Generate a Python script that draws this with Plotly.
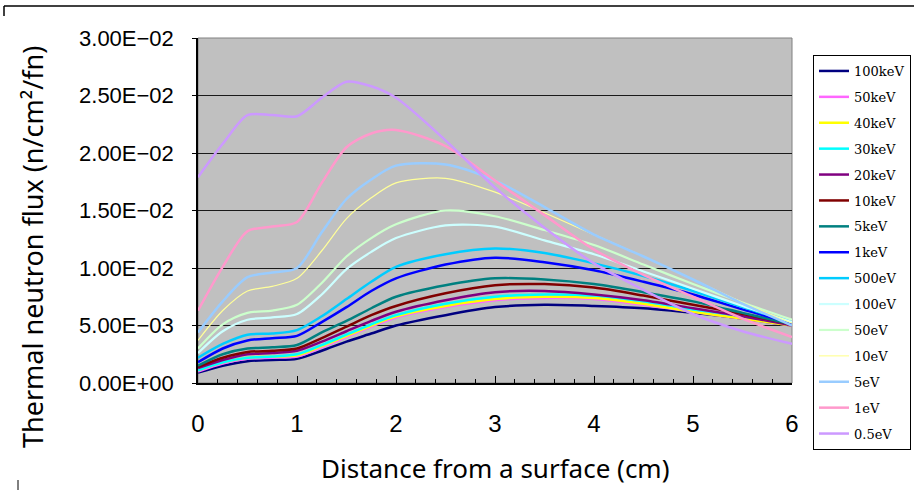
import plotly.graph_objects as go

# ---- data ----
distance_cm = [0, 0.25, 0.5, 0.75, 1.0, 1.25, 1.5, 1.75, 2.0, 2.5, 3.0, 3.5, 4.0, 4.5, 5.0, 5.5, 6.0]

flux_100keV = [0.0009, 0.0015, 0.0019, 0.0020, 0.0021, 0.0028, 0.0036, 0.0043, 0.0050, 0.0059, 0.0066, 0.0068, 0.0067, 0.0065, 0.0061, 0.0056, 0.0050]
flux_50keV = [0.0010, 0.0017, 0.0021, 0.0022, 0.0023, 0.0031, 0.0040, 0.0049, 0.0057, 0.0066, 0.0072, 0.0074, 0.0073, 0.0068, 0.0062, 0.0056, 0.0050]
flux_40keV = [0.0011, 0.0018, 0.0022, 0.0023, 0.0024, 0.0032, 0.0041, 0.0050, 0.0058, 0.0067, 0.0073, 0.0075, 0.0074, 0.0069, 0.0062, 0.0056, 0.0050]
flux_30keV = [0.0011, 0.0018, 0.0022, 0.0023, 0.0025, 0.0033, 0.0042, 0.0051, 0.0059, 0.0069, 0.0075, 0.0077, 0.0076, 0.0071, 0.0064, 0.0058, 0.0051]
flux_20keV = [0.0013, 0.0020, 0.0025, 0.0026, 0.0028, 0.0036, 0.0045, 0.0054, 0.0062, 0.0072, 0.0079, 0.0080, 0.0077, 0.0072, 0.0065, 0.0058, 0.0050]
flux_10keV = [0.0014, 0.0022, 0.0027, 0.0028, 0.0030, 0.0039, 0.0049, 0.0059, 0.0067, 0.0078, 0.0085, 0.0086, 0.0083, 0.0076, 0.0068, 0.0060, 0.0051]
flux_5keV = [0.0015, 0.0025, 0.0030, 0.0031, 0.0033, 0.0044, 0.0054, 0.0065, 0.0075, 0.0085, 0.0091, 0.0090, 0.0086, 0.0079, 0.0071, 0.0061, 0.0051]
flux_1keV = [0.0018, 0.0030, 0.0037, 0.0039, 0.0041, 0.0053, 0.0066, 0.0080, 0.0091, 0.0103, 0.0109, 0.0105, 0.0098, 0.0088, 0.0077, 0.0064, 0.0052]
flux_500eV = [0.0022, 0.0034, 0.0042, 0.0043, 0.0046, 0.0058, 0.0073, 0.0088, 0.0101, 0.0112, 0.0117, 0.0113, 0.0104, 0.0093, 0.0080, 0.0066, 0.0053]
flux_100eV = [0.0026, 0.0045, 0.0055, 0.0057, 0.0060, 0.0077, 0.0099, 0.0114, 0.0126, 0.0137, 0.0136, 0.0124, 0.0112, 0.0097, 0.0082, 0.0067, 0.0053]
flux_50eV = [0.0030, 0.0051, 0.0061, 0.0063, 0.0068, 0.0087, 0.0110, 0.0126, 0.0138, 0.0150, 0.0145, 0.0133, 0.0120, 0.0103, 0.0086, 0.0070, 0.0055]
flux_10eV = [0.0037, 0.0063, 0.0080, 0.0084, 0.0091, 0.0115, 0.0143, 0.0161, 0.0174, 0.0178, 0.0166, 0.0148, 0.0129, 0.0110, 0.0090, 0.0070, 0.0052]
flux_5eV = [0.0044, 0.0071, 0.0092, 0.0096, 0.0100, 0.0131, 0.0160, 0.0177, 0.0189, 0.0190, 0.0176, 0.0153, 0.0129, 0.0110, 0.0090, 0.0069, 0.0050]
flux_1eV = [0.0063, 0.0101, 0.0132, 0.0136, 0.0140, 0.0174, 0.0205, 0.0217, 0.0220, 0.0206, 0.0176, 0.0146, 0.0116, 0.0094, 0.0075, 0.0056, 0.0040]
flux_05eV = [0.0179, 0.0208, 0.0233, 0.0233, 0.0232, 0.0248, 0.0262, 0.0258, 0.0248, 0.0211, 0.0170, 0.0135, 0.0104, 0.0081, 0.0060, 0.0045, 0.0034]

series_names = ["100keV", "50keV", "40keV", "30keV", "20keV", "10keV", "5keV", "1keV",
                "500eV", "100eV", "50eV", "10eV", "5eV", "1eV", "0.5eV"]
series_values = [flux_100keV, flux_50keV, flux_40keV, flux_30keV, flux_20keV, flux_10keV,
                 flux_5keV, flux_1keV, flux_500eV, flux_100eV, flux_50eV, flux_10eV,
                 flux_5eV, flux_1eV, flux_05eV]
series_colors = ["#000080", "#FF66FF", "#FFFF00", "#00FFFF", "#800080", "#800000",
                 "#008080", "#0000FF", "#00CCFF", "#CCFFFF", "#CCFFCC", "#FFFF99",
                 "#99CCFF", "#FF99CC", "#CC99FF"]
series_widths = [2.5, 2.5, 2.5, 2.5, 2.5, 2.5, 2.5, 2.5, 2.5, 2.2, 2.2, 1.2, 2.5, 2.5, 2.5]

y_tick_vals = [0, 0.005, 0.010, 0.015, 0.020, 0.025, 0.030]
y_tick_text = ["0.00E+00", "5.00E\u221203", "1.00E\u221202", "1.50E\u221202",
               "2.00E\u221202", "2.50E\u221202", "3.00E\u221202"]
x_tick_vals = [0, 1, 2, 3, 4, 5, 6]

fig = go.Figure()
for name, vals, col, w in zip(series_names, series_values, series_colors, series_widths):
    fig.add_trace(go.Scatter(
        x=distance_cm, y=vals, name=name, mode="lines",
        line=dict(color=col, width=w, shape="spline", smoothing=0.8),
        legendgroup=name,
    ))

fig.update_layout(
    width=914, height=490,
    margin=dict(l=198, r=122, t=38, b=107, autoexpand=False),
    paper_bgcolor="white",
    plot_bgcolor="#C0C0C0",
    showlegend=True,
    legend=dict(
        x=(813 - 198) / 594, y=(383 - 55) / 345, xanchor="left", yanchor="top",
        bordercolor="black", borderwidth=1, bgcolor="white",
        font=dict(family="DejaVu Serif", size=13, color="black"),
        tracegroupgap=6, itemwidth=30, maxheight=420,
    ),
    xaxis=dict(
        range=[0, 6], tickvals=x_tick_vals,
        ticks="inside", ticklen=7, tickcolor="black", tickwidth=1,
        minor=dict(dtick=0.2, ticks="inside", ticklen=4, tickcolor="black", showgrid=False),
        showgrid=False, zeroline=False,
        showline=True, linecolor="black", linewidth=1.5,
        tickfont=dict(family="Liberation Sans Narrow, Liberation Sans", size=24, color="black"),
        ticklabelstandoff=18,
    ),
    yaxis=dict(
        range=[0, 0.03], tickvals=y_tick_vals, ticktext=y_tick_text,
        ticks="outside", ticklen=4, tickcolor="black",
        showgrid=True, gridcolor="#1a1a1a", gridwidth=1.2,
        zeroline=False,
        showline=True, linecolor="black", linewidth=1.5,
        tickfont=dict(family="Liberation Sans", size=22, color="black"),
        ticklabelstandoff=14,
    ),
    font=dict(family="Liberation Sans", color="black"),
)

# plot-area border (grey) and outer chart frame fragments
fig.add_shape(type="rect", xref="paper", yref="paper", x0=0, x1=1, y0=0, y1=1,
              line=dict(color="#808080", width=1), layer="below")
fig.add_shape(type="line", xref="paper", yref="paper",
              x0=(4 - 198) / 594, x1=(914 - 198) / 594, y0=(383 - 6) / 345, y1=(383 - 6) / 345,
              line=dict(color="black", width=1.5))
fig.add_shape(type="line", xref="paper", yref="paper",
              x0=(4 - 198) / 594, x1=(4 - 198) / 594, y0=(383 - 6) / 345, y1=(383 - 16) / 345,
              line=dict(color="black", width=1.5))
fig.add_shape(type="line", xref="paper", yref="paper",
              x0=(18 - 198) / 594, x1=(18 - 198) / 594, y0=(383 - 480) / 345, y1=(383 - 492) / 345,
              line=dict(color="black", width=1))

# axis titles
fig.add_annotation(text="Thermal neutron flux (n/cm\u00b2/fn)", textangle=-90,
                   xref="paper", yref="paper", x=(32 - 198) / 594, y=(383 - 247) / 345,
                   xanchor="center", yanchor="middle",
                   showarrow=False, font=dict(family="Noto Sans", size=27, color="black"))
fig.add_annotation(text="Distance from a surface (cm)",
                   xref="paper", yref="paper", x=(495 - 198) / 594, y=(383 - 468) / 345,
                   xanchor="center", yanchor="middle",
                   showarrow=False, font=dict(family="Noto Sans", size=26, color="black"))

fig.write_html("out.html")
